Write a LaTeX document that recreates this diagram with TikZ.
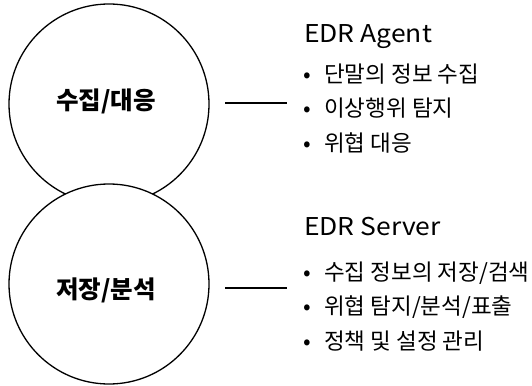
\documentclass[tikz,border=0pt]{standalone}
\usepackage{fontspec}
\setmainfont{Noto Sans CJK KR}
\newfontfamily\widefont[FakeStretch=1.08]{Noto Sans CJK KR}
\begin{document}
\begin{tikzpicture}[x=1pt,y=-1pt,
  ring/.style={circle,draw,line width=1.3pt,minimum size=200pt,inner sep=0pt,fill=white},
  ringlabel/.style={inner sep=0pt,font=\fontsize{24.5}{28}\selectfont\bfseries},
  head/.style={anchor=base west,inner sep=0pt,font=\widefont\fontsize{24.5}{28}\selectfont},
  item/.style={anchor=base west,inner sep=0pt,font=\fontsize{22.5}{26}\selectfont},
  dot/.style={anchor=base west,inner sep=0pt,font=\fontsize{22.5}{26}\selectfont},
  link/.style={line width=1.3pt}]
\useasboundingbox (0,0) rectangle (532,385);
% two overlapping circles, the lower one drawn over the upper
\node[ring] (top) at (109,104) {};
\node[ring] (bot) at (109,284) {};
\node[ringlabel] (toplabel) at (106,101) {수집/대응};
\node[ringlabel] (botlabel) at (106,290) {저장/분석};
% connectors to the description lists
\coordinate (ta) at (225,103);
\coordinate (tb) at (287,103);
\coordinate (ba) at (225,288);
\coordinate (bb) at (287,288);
\draw[link] (ta) -- (tb);
\draw[link] (ba) -- (bb);
% agent description
\node[head] (agent) at (304,42.5) {EDR Agent};
\foreach \t [count=\i] in {단말의 정보 수집,이상행위 탐지,위협 대응}{
  \node[dot] (ad\i) at (303,83+34*\i-34) {•};
  \node[item] (ai\i) at (324,83+34*\i-34) {\t};
}
% server description
\node[head] (server) at (304,235) {EDR Server};
\foreach \t [count=\i] in {수집 정보의 저장/검색,위협 탐지/분석/표출,정책 및 설정 관리}{
  \node[dot] (sd\i) at (303,280+34.5*\i-34.5) {•};
  \node[item] (si\i) at (324,280+34.5*\i-34.5) {\t};
}
\end{tikzpicture}
\end{document}
